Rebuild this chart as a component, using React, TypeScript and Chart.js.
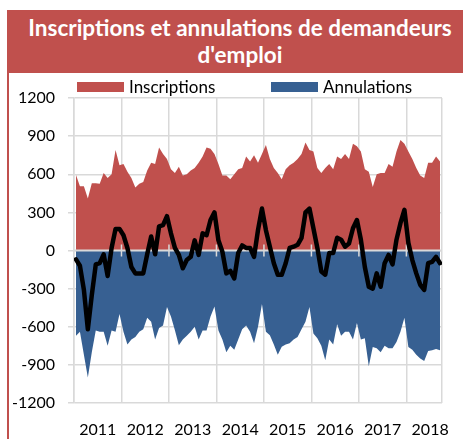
import React, { useEffect, useRef } from 'react';
import { Chart, registerables } from 'chart.js';

Chart.register(...registerables);

// ---- Data (monthly, Jan 2011 – Sep 2018) ----
const yearLabels = ['2011', '2012', '2013', '2014', '2015', '2016', '2017', '2018'];

const inscriptions = [
  595, 505, 505, 410, 530, 530, 525, 610, 570, 600, 790, 670,
  680, 620, 570, 495, 525, 540, 630, 690, 680, 810, 760, 720,
  640, 610, 660, 590, 600, 630, 650, 690, 740, 810, 800, 760,
  680, 590, 590, 560, 600, 640, 650, 740, 700, 750, 690, 760,
  830, 720, 650, 610, 560, 640, 670, 690, 720, 760, 850, 790,
  780, 650, 610, 650, 680, 640, 740, 720, 760, 720, 840, 820,
  780, 640, 620, 500, 600, 610, 610, 680, 660, 780, 870, 840,
  780, 720, 650, 590, 570, 690, 690, 740, 700,
];

const annulations = [
  -670, -640, -820, -1000, -800, -630, -640, -640, -750, -630, -640, -500,
  -640, -740, -700, -680, -640, -620, -530, -560, -700, -610, -590, -445,
  -520, -627, -745, -700, -670, -640, -600, -700, -630, -630, -520, -440,
  -630, -700, -800, -750, -780, -700, -620, -590, -640, -730, -600, -420,
  -640, -667, -740, -820, -758, -740, -730, -700, -680, -620, -560, -445,
  -653, -690, -750, -864, -700, -740, -580, -670, -640, -640, -700, -570,
  -700, -690, -910, -760, -770, -800, -750, -770, -770, -720, -640, -530,
  -760, -780, -820, -850, -870, -790, -785, -775, -785,
];

const solde = [
  -70, -120, -310, -620, -350, -110, -100, -30, -200, 20, 170, 170,
  120, 20, -130, -180, -180, -180, -30, 110, -30, 190, 200, 270,
  135, 20, -35, -140, -75, -50, 80, -35, 135, 120, 240, 300,
  80, -10, -180, -160, -220, -20, 40, 20, 20, -50, 160, 330,
  160, 30, -100, -190, -190, -100, 20, 30, 45, 100, 300, 330,
  175, 20, -165, -190, -20, -20, 100, 85, 30, 55, 175, 240,
  85, -130, -285, -300, -180, -285, -100, -35, -110, 85, 215, 320,
  60, -75, -180, -270, -310, -100, -90, -50, -100,
];

const yMin = -1200;
const yMax = 1200;
const yStep = 300;

const RED = '#c0504d';
const BLUE = '#376092';
const GRID = '#d9d9d9';
const FONT = 'Lato, "Open Sans", sans-serif';

const CANVAS_W = 457;
const CANVAS_H = 366;
const PAD_RIGHT = 24;
const Y_AXIS_W = 65;
const X_AXIS_H = 36;

const toPoints = (arr: number[]) => arr.map((v, i) => ({ x: i, y: v }));

const zeroLinePlugin = {
  id: 'zeroLine',
  beforeDatasetDraw(chart: any, args: any) {
    if (args.index !== 0) return;
    const { ctx, chartArea, scales } = chart;
    const y0 = scales.y.getPixelForValue(0);
    ctx.save();
    ctx.strokeStyle = GRID;
    ctx.lineWidth = 2;
    ctx.beginPath();
    ctx.moveTo(chartArea.left, y0);
    ctx.lineTo(chartArea.right, y0);
    ctx.stroke();
    ctx.lineWidth = 1.5;
    for (let k = 1; k < yearLabels.length; k++) {
      const x = scales.x.getPixelForValue(k * 12 - 0.5);
      ctx.beginPath();
      ctx.moveTo(x, y0 - 6);
      ctx.lineTo(x, y0 + 6);
      ctx.stroke();
    }
    ctx.restore();
  },
};

export default function App() {
  const ref = useRef<HTMLCanvasElement | null>(null);

  useEffect(() => {
    if (!ref.current) return;
    const n = inscriptions.length;
    const boundaries = yearLabels.map((_, k) => k * 12 - 0.5).concat([n - 0.5]);
    const plotW = CANVAS_W - Y_AXIS_W - PAD_RIGHT;
    const monthPx = plotW / n;

    const chart = new Chart(ref.current, {
      type: 'line',
      data: {
        datasets: [
          {
            label: 'Solde',
            data: toPoints(solde),
            borderColor: '#000',
            backgroundColor: '#000',
            borderWidth: 4.5,
            pointRadius: 0,
            fill: false,
            tension: 0,
            borderJoinStyle: 'round',
            borderCapStyle: 'round',
          },
          {
            label: 'Inscriptions',
            data: toPoints(inscriptions),
            borderColor: RED,
            backgroundColor: RED,
            borderWidth: 0,
            pointRadius: 0,
            fill: 'origin',
            tension: 0,
          },
          {
            label: 'Annulations',
            data: toPoints(annulations),
            borderColor: BLUE,
            backgroundColor: BLUE,
            borderWidth: 0,
            pointRadius: 0,
            fill: 'origin',
            tension: 0,
          },
        ],
      } as any,
      options: {
        responsive: false,
        animation: false,
        devicePixelRatio: 1,
        layout: { padding: { top: 25, right: PAD_RIGHT, left: 0, bottom: 0 } },
        plugins: {
          legend: { display: false },
          tooltip: { enabled: false },
        },
        scales: {
          x: {
            type: 'linear',
            min: -0.5,
            max: n - 0.5,
            afterBuildTicks: (s: any) => {
              s.ticks = boundaries.map((v) => ({ value: v }));
            },
            afterFit: (s: any) => {
              s.height = X_AXIS_H;
            },
            ticks: {
              autoSkip: false,
              maxRotation: 0,
              minRotation: 0,
              labelOffset: monthPx * 6,
              padding: 17,
              color: '#000',
              font: { family: FONT, size: 16 },
              callback: (_v: any, i: number) => (i < yearLabels.length ? yearLabels[i] : ''),
            },
            grid: { color: GRID, lineWidth: 1.5, drawTicks: false },
            border: { display: false },
          },
          y: {
            min: yMin,
            max: yMax,
            afterFit: (s: any) => {
              s.width = Y_AXIS_W;
            },
            ticks: {
              stepSize: yStep,
              padding: 13,
              color: '#000',
              font: { family: FONT, size: 16 },
              callback: (v: any) => String(v),
            },
            grid: { color: GRID, lineWidth: 1.5, tickLength: 6 },
            border: { display: true, color: GRID, width: 1.5 },
          },
        },
      } as any,
      plugins: [zeroLinePlugin],
    });
    return () => chart.destroy();
  }, []);

  const legendItem = (left: number, color: string, text: string) => (
    <div
      style={{
        position: 'absolute',
        top: 4,
        left,
        height: 19,
        display: 'flex',
        alignItems: 'center',
        fontSize: 17,
        lineHeight: '19px',
        color: '#000',
        whiteSpace: 'nowrap',
      }}
    >
      <span style={{ display: 'inline-block', width: 47, height: 10, background: color, marginRight: 5 }} />
      {text}
    </div>
  );

  return (
    <div
      style={{
        position: 'fixed',
        left: 7,
        top: 10,
        width: CANVAS_W,
        height: 429,
        borderLeft: `2px solid ${RED}`,
        fontFamily: FONT,
      }}
    >
      <div
        style={{
          marginLeft: -2,
          width: 456,
          height: 63,
          boxSizing: 'border-box',
          background: RED,
          color: '#fff',
          fontWeight: 700,
          fontSize: 22.5,
          lineHeight: '27px',
          textAlign: 'center',
          paddingTop: 4,
          paddingLeft: 10,
          whiteSpace: 'nowrap',
        }}
      >
        Inscriptions et annulations de demandeurs
        <br />
        d'emploi
      </div>
      <div style={{ position: 'relative', width: CANVAS_W, height: CANVAS_H }}>
        <canvas ref={ref} width={CANVAS_W} height={CANVAS_H} style={{ display: 'block' }} />
        {legendItem(68, RED, 'Inscriptions')}
        {legendItem(262, BLUE, 'Annulations')}
      </div>
    </div>
  );
}
